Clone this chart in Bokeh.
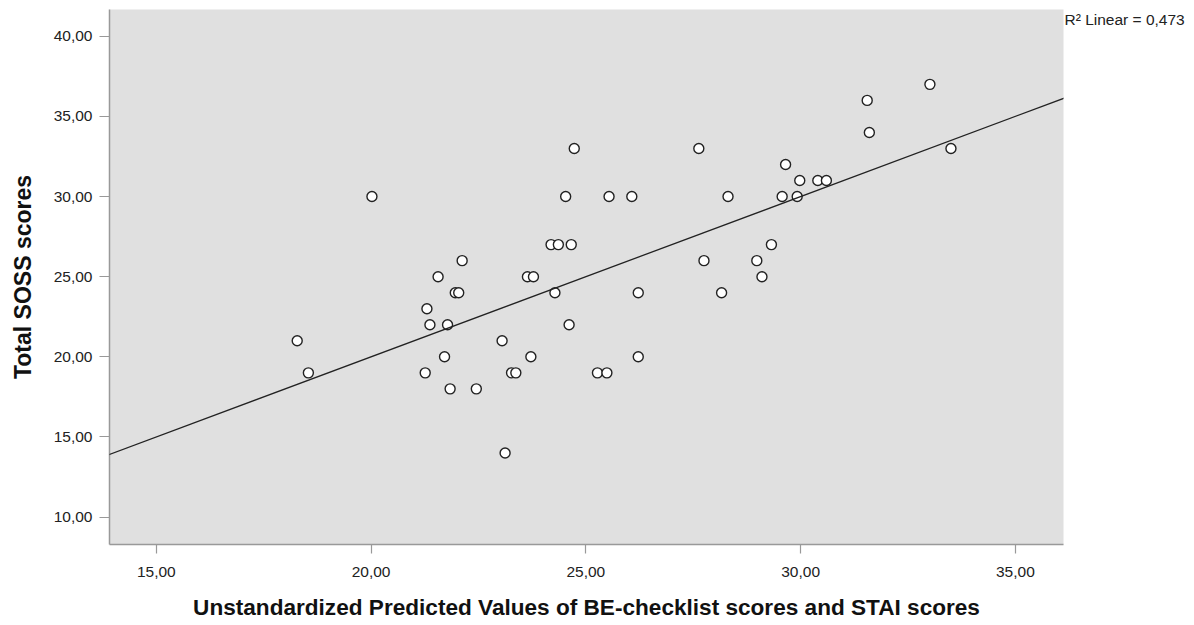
from bokeh.plotting import figure
from bokeh.models import FixedTicker, LinearAxis, Slope, ColumnDataSource, Range1d
from bokeh.embed import file_html
from bokeh.resources import INLINE

# Data
predicted = [18.28, 18.54, 20.02, 21.26, 21.30, 21.37, 21.56, 21.71, 21.78, 21.84,
             21.96, 22.04, 22.12, 22.45, 23.05, 23.12, 23.27, 23.37, 23.64, 23.72,
             23.78, 24.19, 24.28, 24.36, 24.53, 24.61, 24.66, 24.73, 25.27, 25.49,
             25.54, 26.07, 26.22, 26.22, 27.63, 27.75, 28.16, 28.31, 28.98, 29.10,
             29.32, 29.57, 29.65, 29.92, 29.98, 30.40, 30.60, 31.55, 31.60, 33.01,
             33.50]
soss = [21, 19, 30, 19, 23, 22, 25, 20, 22, 18,
        24, 24, 26, 18, 21, 14, 19, 19, 25, 20,
        25, 27, 24, 27, 30, 22, 27, 33, 19, 19,
        30, 30, 24, 20, 33, 26, 24, 30, 26, 25,
        27, 30, 32, 30, 31, 31, 31, 36, 34, 37,
        33]

fit_slope = 1.0
fit_intercept = 0.0
r2_text = "R² Linear = 0,473"

x_ticks = [15, 20, 25, 30, 35]
x_tick_labels = ["15,00", "20,00", "25,00", "30,00", "35,00"]
y_ticks = [10, 15, 20, 25, 30, 35, 40]
y_tick_labels = ["10,00", "15,00", "20,00", "25,00", "30,00", "35,00", "40,00"]

x_title = "Unstandardized Predicted Values of BE-checklist scores and STAI scores"
y_title = "Total SOSS scores"

FONT = "Liberation Sans"

W, H = 1190, 624
FW, FH = 954, 535
p = figure(width=W, height=H, output_backend="svg", toolbar_location=None,
           x_range=Range1d(13.91, 36.12), y_range=Range1d(8.29, 41.67),
           min_border_left=109, min_border_right=W - 109 - FW, min_border_top=9,
           min_border_bottom=H - 9 - FH)
p.background_fill_color = "#e0e0e0"
p.border_fill_color = "white"
p.outline_line_color = None
p.grid.visible = False

# regression line
p.add_layout(Slope(gradient=fit_slope, y_intercept=fit_intercept,
                   line_color="#222222", line_width=1.3))

src = ColumnDataSource(dict(x=predicted, y=soss))
p.scatter("x", "y", source=src, size=10, fill_color="white",
          line_color="#222222", line_width=1.4)

for ax, ticks, labels in ((p.xaxis[0], x_ticks, x_tick_labels),
                          (p.yaxis[0], y_ticks, y_tick_labels)):
    ax.ticker = FixedTicker(ticks=ticks)
    ax.major_label_overrides = {t: l for t, l in zip(ticks, labels)}
    ax.minor_tick_line_color = None
    ax.major_tick_in = 0
    ax.axis_line_color = "#999999"
    ax.axis_line_width = 1.5
    ax.major_tick_line_color = "#999999"
    ax.major_tick_line_width = 1.2
    ax.major_label_text_font = FONT
    ax.major_label_text_font_size = "15.5px"
    ax.major_label_text_color = "#222222"
    ax.axis_label_text_font = FONT
    ax.axis_label_text_font_style = "bold"
    ax.axis_label_text_color = "#111111"

p.xaxis.axis_label_text_font_size = "22.6px"
p.yaxis.axis_label_text_font_size = "23px"
p.xaxis.major_tick_out = 9
p.yaxis.major_tick_out = 10
p.xaxis.major_label_standoff = 13
p.yaxis.major_label_standoff = 7
p.xaxis.axis_label = x_title
p.yaxis.axis_label = y_title
p.xaxis.axis_label_standoff = 15
p.yaxis.axis_label_standoff = 15

# R² annotation, right of the frame near the top (as an invisible right axis label)
r2_y = 41.04
r2_axis = LinearAxis(ticker=FixedTicker(ticks=[r2_y]),
                     major_label_overrides={r2_y: r2_text},
                     axis_line_color=None, major_tick_line_color=None,
                     minor_tick_line_color=None, major_tick_out=0, major_tick_in=0,
                     major_label_standoff=1,
                     major_label_text_font=FONT, major_label_text_font_size="15.5px",
                     major_label_text_color="#222222")
p.add_layout(r2_axis, "right")

open("out.html", "w").write(file_html(p, INLINE))
